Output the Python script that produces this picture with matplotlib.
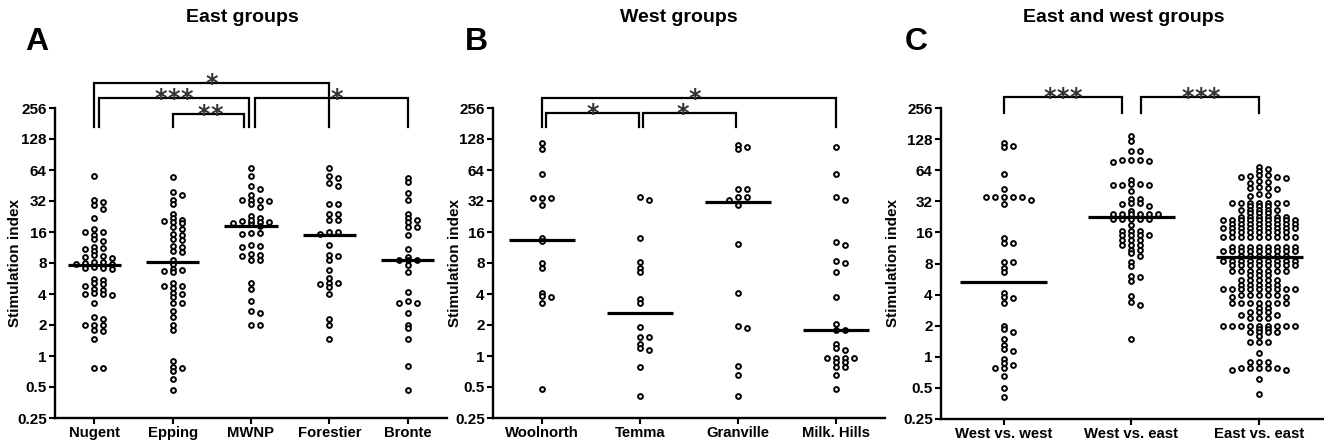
import numpy as np
import matplotlib.pyplot as plt

plt.rcParams['font.family'] = ['Liberation Sans', 'DejaVu Sans']

W, H = 1324, 446

# ---- values (stimulation index) ----
east_names = ['Nugent', 'Epping', 'MWNP', 'Forestier', 'Bronte']
nugent = [56, 33, 31, 29, 27, 22, 17, 16, 16, 15, 13.6, 13, 11.5, 11, 10.5, 11.2,
          9.4, 9.2, 9.6, 9.0, 8.1, 8.0, 7.9, 8.2, 7.8, 7.2, 7.0, 7.3, 7.1, 5.5, 5.6,
          5.1, 5.0, 4.8, 4.4, 4.5, 4.0, 4.0, 3.9, 4.1, 3.3, 2.4, 2.3, 2.0, 2.0, 2.0,
          1.75, 1.8, 1.45, 0.76, 0.77]
epping = [55, 39, 37, 33, 30, 24, 22, 21, 20.5, 20, 19.5, 17.7, 17, 15, 15.2, 13.6,
          13.4, 11.5, 11.6, 10.5, 10.3, 8.6, 7.8, 7.0, 6.8, 6.7, 6.5, 5.1, 4.8, 4.8,
          4.6, 4.1, 4.0, 3.7, 3.3, 3.3, 2.75, 2.4, 2.0, 1.78, 0.9, 0.76, 0.78, 0.72,
          0.6, 0.47]
mwnp = [67, 56, 45, 42, 37, 33, 33, 33, 32, 30, 28, 23, 22, 20.5, 20, 19.5, 21, 20,
        19.5, 18.2, 15.5, 15.6, 15.4, 12, 11.5, 11.6, 9.6, 9.7, 9.4, 8.5, 8.5, 5.1,
        4.5, 3.4, 2.75, 2.6, 2.0, 2.0]
forestier = [67, 56, 53, 48, 45, 30, 30, 24, 24, 21, 21, 16, 16, 15.3, 12, 9.6, 9.4,
             8.5, 6.8, 5.7, 5.1, 5.1, 5.0, 4.7, 4.0, 2.3, 2.0, 1.45]
bronte = [53, 49, 38, 33, 24, 22, 21, 20, 17.7, 17.7, 15, 11, 9.2, 8.5, 8.5, 8.5, 7.7,
          6.5, 4.2, 3.3, 3.3, 3.4, 2.6, 2.0, 1.85, 1.45, 0.8, 0.47]
east_medians = [7.6, 8.1, 18.5, 15.0, 8.5]
east_stars = [(0, 3, '*'), (0, 2, '***'), (1, 2, '**'), (2, 4, '*')]

west_names = ['Woolnorth', 'Temma', 'Granville', 'Milk. Hills']
woolnorth = [117, 103, 59, 34, 34, 34.5, 29, 14, 13, 8, 7.2, 4.1, 3.7, 3.8, 3.3, 0.48]
temma = [35, 33, 14, 8.1, 7.2, 6.6, 3.6, 3.3, 1.9, 1.54, 1.54, 1.3, 1.2, 1.15, 0.79, 0.41]
granville = [113, 108, 103, 42, 42, 35, 35, 33, 29, 12.1, 4.1, 1.95, 1.85, 0.8, 0.65, 0.41]
milk_hills = [108, 59, 35, 33, 12.7, 12, 8.3, 8.0, 6.6, 3.7, 2.03, 1.8, 1.8, 1.3, 1.2,
              1.15, 0.96, 0.96, 0.96, 0.96, 0.87, 0.87, 0.79, 0.79, 0.65, 0.48]
west_medians = [13.5, 2.6, 31.5, 1.8]
west_stars = [(0, 3, '*'), (0, 1, '*'), (1, 2, '*')]

pair_names = ['West vs. west', 'West vs. east', 'East vs. east']
west_west = [117, 108, 110, 59, 42, 35, 35, 35, 35, 35, 33, 30, 14, 12.5, 12.6, 8.2,
             8.2, 7.2, 6.6, 4.1, 3.8, 3.7, 3.3, 2.0, 1.86, 1.75, 1.5, 1.3, 1.2, 1.15,
             0.95, 0.88, 0.83, 0.78, 0.78, 0.65, 0.5, 0.41]
west_east = [136, 122, 98, 98, 81, 78, 80, 76, 81, 52, 47, 46, 46, 47, 46, 40, 34, 34,
             31, 30, 30.5, 29, 26, 24, 24, 24, 24, 24, 24, 21.7, 21.7, 21.7, 21.7, 21.7,
             19, 16.5, 16.5, 16.5, 15, 15, 15, 15, 13.4, 13.4, 13.4, 12, 12, 12, 10.8,
             10.8, 10, 9.5, 8.2, 7.6, 6.1, 5.9, 5.4, 3.9, 3.4, 3.2, 1.5]
east_east = [68, 63, 66,
             57, 55, 56, 54, 55, 57,
             49, 48, 50,
             43, 42, 44, 43,
             38, 37, 36,
             31, 31, 31, 31, 31, 31, 31,
             28.5, 28.5, 28.5,
             26.5, 26.5, 26.5, 26.5, 26.5,
             24.5, 24.5, 24.5,
             22.8, 22.8, 22.8, 22.8, 22.8, 22.8,
             21.1, 21.1, 21.1, 21.1, 21.1, 21.1, 21.1, 21.1, 21.1,
             19.3, 19.3, 19.3, 19.3, 19.3, 19.3, 19.3, 19.3,
             17.6, 17.6, 17.6, 17.6, 17.6, 17.6, 17.6, 17.6, 17.6,
             16, 16, 16, 16, 16, 16, 16,
             14.5, 14.5, 14.5, 14.5, 14.5, 14.5, 14.5, 14.5, 14.5,
             11.5, 11.5, 11.5, 11.5, 11.5, 11.5, 11.5, 11.5,
             10.5, 10.5, 10.5, 10.5, 10.5, 10.5, 10.5, 10.5, 10.5,
             9.5, 9.5, 9.5, 9.5, 9.5, 9.5,
             8.4, 8.4, 8.4, 8.4, 8.4, 8.4, 8.4, 8.4, 8.4,
             7.7, 7.7, 7.7, 7.7, 7.7, 7.7, 7.7, 7.7,
             6.8, 6.8, 6.8, 6.8, 6.8, 6.8, 6.8,
             6.2, 6.2, 6.2,
             5.6, 5.6, 5.6, 5.6, 5.6,
             5.0, 5.0, 5.0, 5.0, 5.0,
             4.5, 4.5, 4.5, 4.5, 4.5, 4.5, 4.5, 4.5, 4.5,
             4.0, 4.0, 4.0, 4.0, 4.0,
             3.75, 3.75,
             3.3, 3.3, 3.3, 3.3, 3.3, 3.3, 3.3,
             3.0, 3.0,
             2.7, 2.7, 2.7,
             2.55, 2.55,
             2.4, 2.4, 2.4,
             2.0, 2.0, 2.0, 2.0, 2.0, 2.0, 2.0, 2.0, 2.0,
             1.85, 1.85,
             1.72, 1.72, 1.72, 1.72,
             1.6,
             1.4, 1.4, 1.4,
             1.1,
             0.9, 0.9, 0.9,
             0.78, 0.78, 0.78, 0.78, 0.78,
             0.74, 0.74,
             0.61,
             0.44]
pair_medians = [5.3, 22.6, 9.3]
pair_stars = [(0, 1, '***'), (1, 2, '***')]

yticks = [0.25, 0.5, 1, 2, 4, 8, 16, 32, 64, 128, 256]
ytick_labels = ['0.25', '0.5', '1', '2', '4', '8', '16', '32', '64', '128', '256']

fig = plt.figure(figsize=(W / 100, H / 100), dpi=100)


def box(x, y, w, h):
    # pixel box measured from the top-left corner -> figure fraction
    return [x / W, 1 - (y + h) / H, w / W, h / H]


def px_per_unit(ax):
    x0, x1 = ax.get_xlim()
    return ax.get_position().width * W / (x1 - x0)


def swarm_x(ax, pos, vals, step_px=9.0, min_gap=3.2):
    # column scatter: put each point in the nearest free column
    vals = np.asarray(vals, float)
    ypx = ax.transData.transform(np.column_stack([np.full(len(vals), pos), vals]))[:, 1]
    cols = np.zeros(len(vals))
    taken = {}
    for i in np.argsort(-vals, kind='stable'):
        for k in range(60):
            c = (k + 1) // 2 * (1 if k % 2 else -1)
            if all(abs(ypx[i] - y) >= min_gap for y in taken.get(c, [])):
                break
        taken.setdefault(c, []).append(ypx[i])
        cols[i] = c
    return pos + cols * step_px / px_per_unit(ax)


def panel(rect, xlim, names, groups, medians, stars, layout, leg):
    ax = fig.add_axes(box(*rect))
    ax.set_yscale('log', base=2)
    ax.set_ylim(0.25, 256)
    ax.set_xlim(*xlim)
    ax.set_yticks(yticks, ytick_labels, fontsize=11, fontweight='bold')
    ax.yaxis.set_minor_locator(plt.NullLocator())
    ax.set_xticks(range(len(names)), names, fontsize=10.7, fontweight='bold')
    for s in ['top', 'right']:
        ax.spines[s].set_visible(False)
    for s in ['left', 'bottom']:
        ax.spines[s].set_linewidth(1.7)
    ax.tick_params(width=1.5, length=4, pad=2)

    for i, vals in enumerate(groups):
        ax.scatter(swarm_x(ax, i, vals), vals, s=12, facecolor='white',
                   edgecolor='black', linewidth=1.4, zorder=3, clip_on=False)
        ax.plot([i - 0.34, i + 0.34], [medians[i]] * 2, color='black', lw=2.3,
                zorder=4, solid_capstyle='butt')

    u = px_per_unit(ax)
    for (i, j, lab), (lev, oi, oj, sdx) in zip(stars, layout):
        xa, xb = i + oi / u, j + oj / u
        ax.plot([xa, xa, xb, xb], [2 ** leg, 2 ** lev, 2 ** lev, 2 ** leg],
                color='black', lw=1.6, clip_on=False, solid_joinstyle='miter')
        n = len(lab)
        for k, ch in enumerate(lab):
            dx = sdx + (k - (n - 1) / 2) * 13
            ax.annotate(ch, ((xa + xb) / 2 + dx / u, 2 ** lev), xytext=(0, -5.5),
                        textcoords='offset points', ha='center', va='baseline',
                        fontsize=17, family='DejaVu Sans', fontweight='bold',
                        color='#333333', annotation_clip=False)
    return ax


panel((55, 108, 392, 310), (-0.5, 4.5), east_names,
      [nugent, epping, mwnp, forestier, bronte], east_medians, east_stars,
      [(8.8, 0, 0, 0), (8.32, 5, -2, 0), (7.81, 0, -7, 1.5), (8.32, 4, 0, 5)], 7.39)
panel((493, 108, 392, 310), (-0.5, 3.5), west_names,
      [woolnorth, temma, granville, milk_hills], west_medians, west_stars,
      [(8.32, 0, 0, 6), (7.84, 4, -1, 0), (7.84, 3, -2, -6.5)], 7.39)
panel((941, 108, 382, 311), (-0.49, 2.5), pair_names,
      [west_west, west_east, east_east], pair_medians, pair_stars,
      [(8.35, 0, -9.5, 0), (8.35, 10, 0, 0)], 7.84)

titles = ['East groups', 'West groups', 'East and west groups']
for t, x in zip(titles, [242, 679, 1124]):
    fig.text(x / W, 1 - 18 / H, t, ha='center', va='center', fontsize=14, fontweight='bold')
for t, x in zip(['A', 'B', 'C'], [37, 476, 916]):
    fig.text(x / W, 1 - 42 / H, t, ha='center', va='center', fontsize=23, fontweight='bold')
for x in [15, 455, 893]:
    fig.text(x / W, 1 - 263 / H, 'Stimulation index', rotation=90, ha='center',
             va='center', fontsize=11, fontweight='bold')

fig.savefig('out.png', dpi=100)
